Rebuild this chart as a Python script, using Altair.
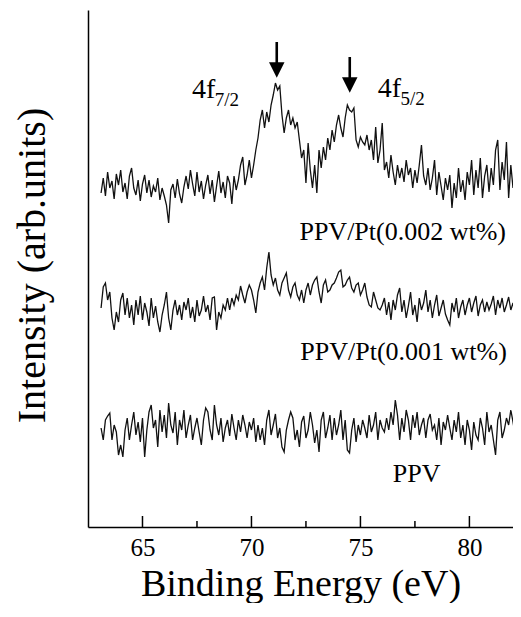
import altair as alt
import pandas as pd

FONT = "Liberation Serif, Times New Roman, serif"

# Binding energy grid (eV), instrument step 0.1 eV starting at 63.1
E_START = 63.1
E_STEP = 0.1

# Intensities (arb. units, vertically offset spectra)
pt_002 = [
    407, 422, 404, 428, 412, 419, 401, 426, 415,
    430, 408, 417, 401, 424, 432, 412, 405, 420, 399,
    416, 425, 407, 420, 403, 414, 408, 422, 400, 412,
    404, 395, 377, 410, 416, 402, 421, 406, 397, 413,
    424, 411, 430, 416, 404, 428, 408, 419, 401, 415,
    425, 406, 420, 398, 414, 429, 407, 418, 402, 424,
    417, 396, 424, 410, 420, 435, 443, 415, 425, 440,
    422, 435, 450, 462, 480, 490, 472, 488, 478, 495,
    505, 517, 510, 514, 485, 467, 482, 490, 475, 482,
    472, 478, 460, 442, 450, 417, 457, 430, 412, 435,
    407, 450, 432, 453, 440, 462, 450, 470, 458, 475,
    485, 472, 463, 482, 495, 490, 488, 492, 460, 453,
    463, 458, 455, 465, 450, 460, 440, 473, 437, 450,
    477, 430, 438, 422, 445, 428, 415, 435, 422, 432,
    418, 440, 425, 432, 412, 430, 417, 435, 455, 424,
    415, 432, 410, 422, 440, 405, 428, 414, 400, 422,
    410, 425, 392, 417, 402, 432, 408, 420, 400, 428,
    415, 440, 405, 430, 412, 442, 402, 424, 435, 408,
    432, 415, 450, 460, 410, 438, 420, 458, 402, 435,
    412, 440, 420, 428,
]

pt_001 = [
    292, 313, 317, 300, 308, 282, 270, 288, 278,
    300, 307, 285, 302, 282, 295, 275, 300, 285, 304,
    280, 297, 288, 274, 302, 282, 294, 278, 268, 285,
    295, 308, 282, 270, 290, 300, 285, 295, 280, 298,
    290, 302, 282, 293, 278, 300, 284, 290, 304, 288,
    295, 280, 302, 303, 270, 288, 282, 295, 290, 302,
    290, 302, 295, 305, 300, 314, 305, 297, 308, 315,
    310, 300, 287, 308, 317, 323, 310, 332, 348, 325,
    315, 322, 310, 305, 317, 322, 327, 310, 303, 313,
    317, 305, 300, 310, 297, 310, 317, 305, 315, 320,
    323, 308, 297, 315, 320, 308, 310, 315, 317, 322,
    328, 330, 313, 315, 320, 323, 312, 308, 315, 317,
    305, 310, 317, 303, 295, 293, 308, 300, 292, 290,
    295, 302, 285, 298, 280, 300, 290, 305, 312, 288,
    300, 282, 294, 308, 285, 295, 278, 302, 290, 297,
    310, 288, 300, 282, 295, 305, 284, 292, 300, 286,
    280, 275, 297, 288, 302, 282, 293, 300, 285, 295,
    302, 288, 297, 304, 284, 295, 300, 288, 298, 290,
    296, 304, 285, 300, 292, 302, 288, 295, 303, 290,
    297, 286, 300, 293,
]

ppv = [
    172, 160, 180, 184, 187, 160, 175, 168, 145,
    155, 143, 170, 182, 160, 175, 188, 165, 178, 158,
    182, 143, 170, 188, 195, 172, 180, 153, 190, 168,
    185, 162, 197, 175, 167, 188, 155, 180, 170, 190,
    162, 175, 185, 160, 172, 182, 168, 155, 180, 192,
    188, 170, 160, 195, 175, 165, 182, 158, 172, 180,
    164, 186, 172, 160, 180, 168, 185, 175, 162, 178,
    170, 182, 158, 175, 160, 172, 155, 180, 190, 165,
    175, 186, 162, 172, 153, 148, 170, 180, 188, 182,
    160, 170, 153, 178, 184, 162, 170, 188, 175, 157,
    170, 148, 180, 188, 162, 172, 185, 160, 182, 165,
    175, 190, 160, 180, 150, 147, 170, 182, 158, 175,
    165, 180, 172, 162, 185, 168, 175, 188, 160, 180,
    172, 168, 182, 170, 188, 175, 200, 185, 160, 182,
    168, 190, 180, 160, 185, 172, 188, 165, 175, 182,
    162, 180, 186, 170, 175, 160, 182, 155, 178, 170,
    185, 172, 160, 180, 168, 188, 162, 175, 155, 180,
    170, 150, 178, 165, 160, 182, 172, 155, 188, 168,
    175, 160, 145, 180, 188, 162, 170, 182, 175, 190,
    178, 165, 182, 172,
]

series = {"PPV/Pt(0.002 wt%)": pt_002, "PPV/Pt(0.001 wt%)": pt_001, "PPV": ppv}

# Sample labels
label_text = ["PPV/Pt(0.002 wt%)", "PPV/Pt(0.001 wt%)", "PPV"]
label_energy = [76.94, 76.98, 77.58]
label_intensity = [360, 240, 118]

# Peak annotations
peak_main = ["4f", "4f"]
peak_main_energy = [67.27, 75.79]
peak_main_intensity = [502, 503]
peak_sub = ["7/2", "5/2"]
peak_sub_energy = [68.32, 76.84]
peak_sub_intensity = [494, 495]

# Arrows marking the Pt 4f peaks
arrow_energy = [71.16, 74.51]
arrow_top = [558, 543]
arrow_head = [530, 515]

# Axis ticks
major_ticks = [65, 70, 75, 80]
minor_ticks = [67.5, 72.5, 77.5]

rows = []
for name, vals in series.items():
    for i, v in enumerate(vals):
        rows.append({"energy": round(E_START + E_STEP * i, 2), "intensity": v, "sample": name})
df = pd.DataFrame(rows)

XDOM = [62.5, 82.0]
YDOM = [73, 590]
W, H = 425, 517

xs = alt.Scale(domain=XDOM, nice=False, zero=False)
ys = alt.Scale(domain=YDOM, nice=False, zero=False)

x_enc = alt.X(
    "energy:Q",
    scale=xs,
    title="Binding Energy (eV)",
    axis=alt.Axis(
        values=major_ticks,
        ticks=False,
        grid=False,
        domainColor="black",
        domainWidth=1.5,
        labelFont=FONT,
        labelFontSize=25,
        labelColor="black",
        labelPadding=8,
        titleFont=FONT,
        titleFontSize=38,
        titleFontWeight="normal",
        titleColor="black",
        titleBaseline="alphabetic",
        titleY=68,
    ),
)
y_enc = alt.Y(
    "intensity:Q",
    scale=ys,
    title="Intensity (arb.units)",
    axis=alt.Axis(
        labels=False,
        ticks=False,
        grid=False,
        domainColor="black",
        domainWidth=1.5,
        titleFont=FONT,
        titleFontSize=40,
        titleFontWeight="normal",
        titleColor="black",
        titleBaseline="alphabetic",
        titleAngle=-90,
        titleAlign="center",
        titleX=-44,
        titleY=255,
    ),
)

lines = alt.Chart(df).mark_line(color="#111111", strokeWidth=1.3, clip=True).encode(
    x=x_enc, y=y_enc, detail="sample:N"
)

X2 = alt.X("energy:Q", title="Binding Energy (eV)")
Y2 = alt.Y("intensity:Q", title="Intensity (arb.units)")

tick_major = alt.Chart(pd.DataFrame({"energy": major_ticks})).mark_rule(
    color="black", strokeWidth=1.5
).encode(x=X2, y=alt.value(H), y2=alt.value(H - 11))

tick_minor = alt.Chart(pd.DataFrame({"energy": minor_ticks})).mark_rule(
    color="black", strokeWidth=1.5
).encode(x=X2, y=alt.value(H), y2=alt.value(H - 6))

arrow_df = pd.DataFrame({"energy": arrow_energy, "intensity": arrow_top, "head": arrow_head})
shafts = alt.Chart(arrow_df).mark_rule(color="black", strokeWidth=2.6).encode(
    x=X2, y=Y2, y2="head:Q",
)
heads = alt.Chart(arrow_df).mark_point(
    shape="M-1,-1L1,-1L0,1Z", filled=True, color="black", opacity=1, size=240
).encode(
    x=X2, y=alt.Y("head:Q", title="Intensity (arb.units)"),
)

labels = alt.Chart(
    pd.DataFrame({"energy": label_energy, "intensity": label_intensity, "text": label_text})
).mark_text(font=FONT, fontSize=26, align="center", baseline="alphabetic", color="black").encode(
    x=X2, y=Y2, text="text:N",
)

main_txt = alt.Chart(
    pd.DataFrame({"energy": peak_main_energy, "intensity": peak_main_intensity, "text": peak_main})
).mark_text(font=FONT, fontSize=28, align="left", baseline="alphabetic", color="black").encode(
    x=X2, y=Y2, text="text:N",
)

sub_txt = alt.Chart(
    pd.DataFrame({"energy": peak_sub_energy, "intensity": peak_sub_intensity, "text": peak_sub})
).mark_text(font=FONT, fontSize=19, align="left", baseline="alphabetic", color="black").encode(
    x=X2, y=Y2, text="text:N",
)

chart = (
    alt.layer(lines, tick_major, tick_minor, shafts, heads, labels, main_txt, sub_txt)
    .properties(
        width=W,
        height=H,
        padding={"left": 80, "top": 2, "right": 0, "bottom": 76},
        autosize=alt.AutoSizeParams(type="none"),
        background="white",
    )
    .configure_view(stroke=None)
)

chart.save("out.html", embed_options={"renderer": "svg", "actions": False})
